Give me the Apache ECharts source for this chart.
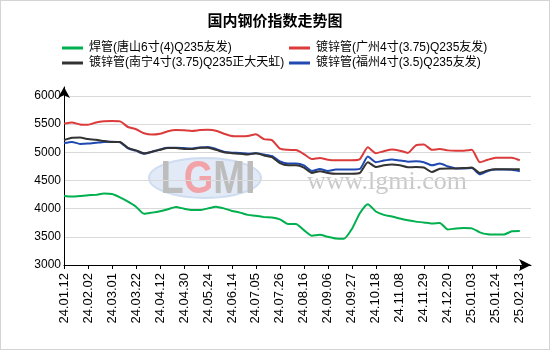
<!DOCTYPE html>
<html>
<head>
<meta charset="utf-8">
<script src="https://cdn.jsdelivr.net/npm/echarts@6/dist/echarts.min.js"></script>
<style>
  html, body { margin: 0; padding: 0; background: #fff; }
  #chart { width: 550px; height: 350px; box-sizing: border-box; border: 1px solid #d4d4d4; }
</style>
</head>
<body>
<div id="chart"></div>
<script>
// Weekly sample dates (yy.mm.dd); every third one is labelled on the axis
const dates = [
  '24.01.12','24.01.19','24.01.26','24.02.02','24.02.08','24.02.23',
  '24.03.01','24.03.08','24.03.15','24.03.22','24.03.29','24.04.03',
  '24.04.12','24.04.19','24.04.26','24.04.30','24.05.10','24.05.17',
  '24.05.24','24.05.31','24.06.07','24.06.14','24.06.21','24.06.28',
  '24.07.05','24.07.12','24.07.19','24.07.26','24.08.02','24.08.09',
  '24.08.16','24.08.23','24.08.30','24.09.06','24.09.13','24.09.20',
  '24.09.27','24.09.30','24.10.11','24.10.18','24.10.25','24.11.01',
  '24.11.08','24.11.15','24.11.22','24.11.29','24.12.06','24.12.13',
  '24.12.20','24.12.27','24.12.31','25.01.03','25.01.10','25.01.17',
  '25.01.24','25.01.27','25.02.07','25.02.13'
];

const nameWeld = '焊管(唐山6寸(4)Q235友发)';
const nameGuangzhou = '镀锌管(广州4寸(3.75)Q235友发)';
const nameNanning = '镀锌管(南宁4寸(3.75)Q235正大天虹)';
const nameFuzhou = '镀锌管(福州4寸(3.5)Q235友发)';

const weldTangshan = [
  4225,4215,4225,4240,4245,4270,4260,4200,4125,4035,3910,3930,3955,3990,4030,
  4000,3975,3975,4005,4035,4005,3960,3930,3890,3875,3850,3845,3810,3730,3730,
  3620,3520,3535,3500,3470,3465,3640,3920,4080,3950,3890,3860,3825,3795,3770,
  3755,3735,3745,3630,3650,3655,3650,3580,3545,3540,3540,3600,3605
];
const galvGuangzhou = [
  5510,5530,5495,5490,5530,5550,5555,5550,5450,5410,5340,5315,5330,5375,5395,
  5390,5380,5395,5400,5385,5330,5290,5285,5290,5320,5235,5215,5065,5045,5040,
  4970,4880,4900,4870,4860,4860,4860,4880,5090,4985,5020,5050,5030,4990,5125,
  5140,5045,5060,5035,5030,5030,5045,4825,4870,4905,4905,4905,4860
];
const galvNanning = [
  5220,5260,5265,5235,5225,5200,5185,5185,5080,5035,4985,5010,5045,5075,5075,
  5060,5060,5080,5080,5045,5000,4985,4975,4960,4985,4945,4915,4810,4770,4770,
  4730,4635,4665,4635,4620,4620,4620,4635,4825,4740,4770,4785,4770,4735,4740,
  4730,4650,4710,4715,4715,4720,4730,4635,4680,4700,4700,4700,4700
];
const galvFuzhou = [
  5165,5185,5150,5155,5170,5185,5190,5180,5070,5030,4975,5010,5050,5080,5080,
  5075,5070,5085,5095,5060,5010,4995,4990,4975,4985,4960,4935,4840,4800,4800,
  4770,4670,4705,4670,4695,4695,4695,4705,4925,4825,4855,4875,4855,4835,4840,
  4825,4770,4800,4750,4715,4715,4720,4610,4670,4695,4695,4690,4665
];

const FONT = "'Liberation Sans', Arial, 'Noto Sans CJK SC', sans-serif";
const pairs = arr => arr.map((v, i) => [i, v]);

function lineSeries(name, values, color) {
  return {
    name: name,
    type: 'line',
    data: pairs(values),
    showSymbol: false,
    smooth: 0.2,
    lineStyle: { width: 2, color: color },
    itemStyle: { color: color },
    emphasis: { disabled: true }
  };
}

const chart = echarts.init(document.getElementById('chart'), null, { renderer: 'canvas' });

chart.setOption({
  animation: false,
  backgroundColor: '#fff',
  title: {
    text: '国内钢价指数走势图',
    left: 'center',
    top: 7,
    textStyle: { fontSize: 15, fontWeight: 'bold', color: '#000', fontFamily: "'Noto Sans CJK SC', sans-serif" }
  },
  legend: [
    {
      data: [nameWeld, nameNanning],
      orient: 'vertical',
      left: 61, top: 41,
      padding: 0, itemGap: 3,
      itemWidth: 21, itemHeight: 3, icon: 'rect',
      textStyle: { fontSize: 12, color: '#000', fontFamily: FONT, padding: [0, 0, 0, 1] }
    },
    {
      data: [nameGuangzhou, nameFuzhou],
      orient: 'vertical',
      left: 288, top: 41,
      padding: 0, itemGap: 3,
      itemWidth: 21, itemHeight: 3, icon: 'rect',
      textStyle: { fontSize: 12, color: '#000', fontFamily: FONT, padding: [0, 0, 0, 1] }
    }
  ],
  grid: { left: 63, right: 18, top: 86, bottom: 84, containLabel: false },
  xAxis: {
    type: 'value',
    min: 0,
    max: 58.4,
    interval: 3,
    axisLine: {
      lineStyle: { color: '#000', width: 1 },
      symbol: ['none', 'arrow'],
      symbolSize: [9, 12]
    },
    axisTick: { show: true, length: 4, lineStyle: { color: '#000' } },
    splitLine: { show: false },
    axisLabel: {
      rotate: 90,
      margin: 8,
      fontSize: 13,
      color: '#000',
      fontFamily: FONT,
      showMaxLabel: false,
      formatter: v => (Number.isInteger(v) && dates[v] !== undefined ? dates[v] : '')
    }
  },
  yAxis: {
    type: 'value',
    min: 3000,
    max: 6160,
    interval: 500,
    axisLine: {
      show: true,
      lineStyle: { color: '#000', width: 1 },
      symbol: ['none', 'arrow'],
      symbolSize: [9, 11]
    },
    axisTick: { show: false },
    splitLine: {
      show: true,
      lineStyle: {
        color: ['#d9d9d9', '#d9d9d9', '#d9d9d9', '#d9d9d9', '#d9d9d9', '#d9d9d9', '#d9d9d9', 'rgba(0,0,0,0)'],
        width: 1
      }
    },
    axisLabel: {
      margin: 3,
      fontSize: 12,
      color: '#000',
      fontFamily: FONT,
      formatter: v => (v > 6000 ? '' : String(v))
    }
  },
  graphic: [
    {
      type: 'group',
      silent: true,
      z: 1,
      children: [
        {
          type: 'ellipse',
          shape: { cx: 204, cy: 177, rx: 56, ry: 20 },
          style: { fill: '#dce6f4', stroke: '#c9d8ee', lineWidth: 2, opacity: 0.85 }
        },
        {
          type: 'text',
          x: 207, y: 179,
          scaleY: 1.2,
          style: {
            text: '{g|L}{r|G}{g|MI}',
            align: 'center',
            verticalAlign: 'middle',
            rich: {
              g: { fontSize: 38, fontWeight: 'bold', fill: '#bdbdbd', fontFamily: FONT },
              r: { fontSize: 38, fontWeight: 'bold', fill: '#f2a3a8', fontFamily: FONT }
            }
          }
        },
        {
          type: 'text',
          x: 386, y: 181,
          style: {
            text: 'www.lgmi.com',
            align: 'center',
            verticalAlign: 'middle',
            fontSize: 26,
            fontFamily: "'Liberation Serif', 'DejaVu Serif', serif",
            fill: '#c9c9c9'
          }
        }
      ]
    }
  ],
  series: [
    lineSeries(nameWeld, weldTangshan, '#00b04f'),
    lineSeries(nameGuangzhou, galvGuangzhou, '#dc3b3b'),
    lineSeries(nameFuzhou, galvFuzhou, '#1f48b0'),
    lineSeries(nameNanning, galvNanning, '#333333')
  ]
});
</script>
</body>
</html>
